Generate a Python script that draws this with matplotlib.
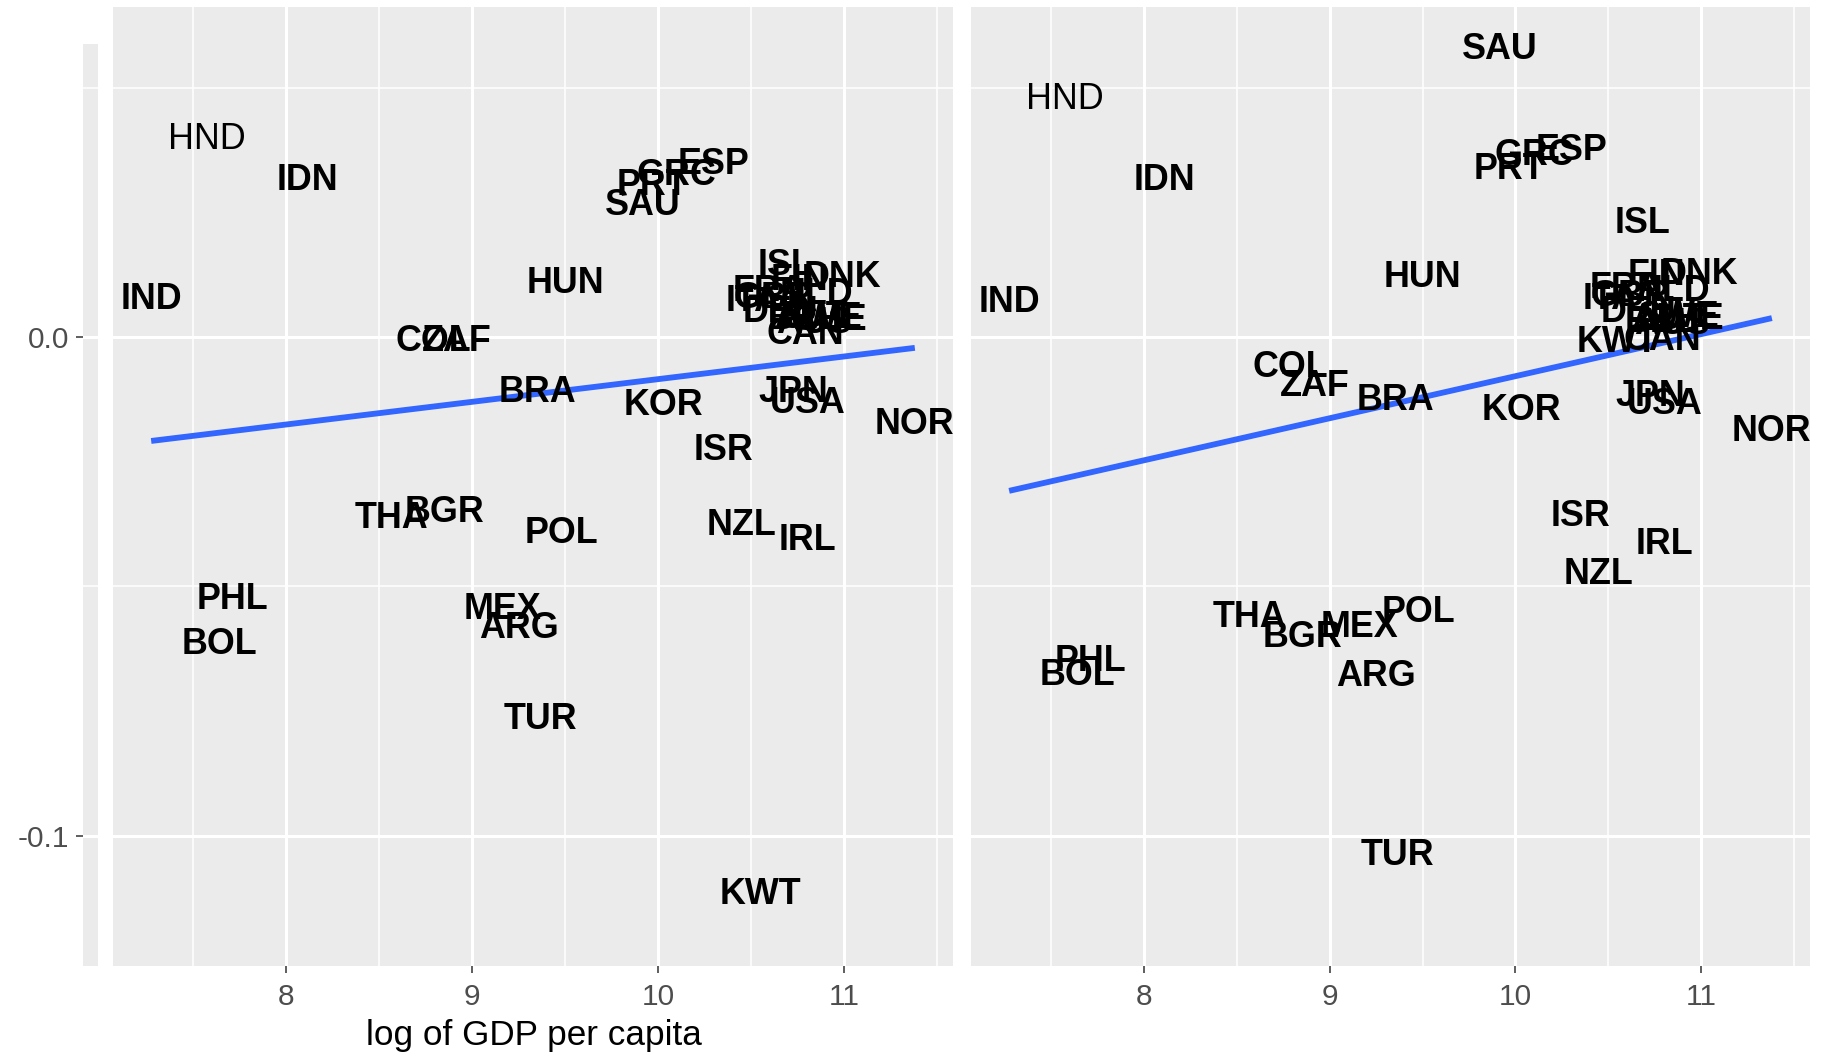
import numpy as np
import matplotlib
matplotlib.use("Agg")
import matplotlib.pyplot as plt
from matplotlib.transforms import offset_copy

plt.rcParams['font.family'] = ['Liberation Sans', 'DejaVu Sans']
plt.rcParams['axes.unicode_minus'] = False

# ---------------- data ----------------
countries = ["HND", "IDN", "IND", "ESP", "GRC", "PRT", "SAU", "HUN", "ISL", "FIN",
             "DNK", "FRA", "ITA", "NLD", "GBR", "DEU", "AUT", "BEL", "CHE", "AUS",
             "SWE", "CAN", "KWT", "COL", "ZAF", "BRA", "KOR", "JPN", "USA", "NOR",
             "ISR", "THA", "BGR", "POL", "NZL", "IRL", "PHL", "BOL", "MEX", "ARG",
             "TUR"]

log_gdp = [7.575, 8.113, 7.275, 10.30, 10.10, 9.97, 9.916, 9.50, 10.685, 10.76,
           10.99, 10.60, 10.51, 10.85, 10.62, 10.66, 10.82, 10.78, 10.92, 10.84,
           10.88, 10.79, 10.55, 8.79, 8.92, 9.352, 10.03, 10.726, 10.804, 11.38,
           10.352, 8.568, 8.853, 9.48, 10.446, 10.803, 7.712, 7.64, 9.163, 9.251,
           9.367]

y_left = [0.0404, 0.0322, 0.0082, 0.0353, 0.0332, 0.0311, 0.0271, 0.0114, 0.0150, 0.0121,
          0.0126, 0.0098, 0.0079, 0.0093, 0.0084, 0.0056, 0.0047, 0.0042, 0.0040, 0.0035,
          0.0044, 0.0012, -0.1112, -0.0002, -0.0002, -0.0105, -0.0131, -0.0105, -0.0126, -0.0168,
          -0.0220, -0.0357, -0.0346, -0.0388, -0.0371, -0.0402, -0.0521, -0.0610, -0.0540, -0.0579,
          -0.0762]

y_right = [0.0484, 0.0322, 0.0077, 0.0381, 0.0371, 0.0343, 0.0584, 0.0126, 0.0234, 0.0131,
           0.0133, 0.0105, 0.0082, 0.0098, 0.0089, 0.0056, 0.0042, 0.0037, 0.0042, 0.0033,
           0.0047, 0.0000, -0.0005, -0.0054, -0.0093, -0.0121, -0.0140, -0.0112, -0.0129, -0.0182,
           -0.0353, -0.0556, -0.0596, -0.0547, -0.0470, -0.0409, -0.0645, -0.0673, -0.0577, -0.0675,
           -0.1035]

regular_labels = ["HND"]

x_ticks = [8, 9, 10, 11]
x_tick_labels = ["8", "9", "10", "11"]
y_ticks = [0.0, -0.1]
y_tick_labels = ["0.0", "-0.1"]
x_title = "log of GDP per capita"

# ---------------- layout ----------------
W, H = 1825, 1052
fig = plt.figure(figsize=(W / 100, H / 100), dpi=100)

def fx(px):
    return px / W

def fy(py):
    return 1 - py / H

panel_top, panel_bot = 7, 966
ax1 = fig.add_axes([fx(113), fy(panel_bot), fx(953 - 113), (panel_bot - panel_top) / H])
ax2 = fig.add_axes([fx(971), fy(panel_bot), fx(1810 - 971), (panel_bot - panel_top) / H])

ylim = (-0.1262, 0.06635)
bg = '#EBEBEB'
tick_col = '#4D4D4D'
xvals = np.array(log_gdp)
xr = xvals.max() - xvals.min()
xlim = (xvals.min() - 0.05 * xr, xvals.max() + 0.05 * xr)

for ax, yv in ((ax1, y_left), (ax2, y_right)):
    ax.set_facecolor(bg)
    for s in ax.spines.values():
        s.set_visible(False)
    ax.set_xlim(*xlim)
    ax.set_ylim(*ylim)
    ax.set_xticks(x_ticks)
    ax.set_xticklabels(x_tick_labels)
    ax.set_xticks([7.5, 8.5, 9.5, 10.5, 11.5], minor=True)
    ax.set_yticks(y_ticks)
    ax.set_yticks([0.05, -0.05], minor=True)
    ax.grid(which='major', color='white', linewidth=2.2)
    ax.grid(which='minor', color='white', linewidth=1.1)
    ax.set_axisbelow(True)
    ax.tick_params(axis='x', which='major', length=5, width=1.1, color='#333333',
                   labelsize=21.5, labelcolor=tick_col, pad=7.5)
    ax.tick_params(axis='x', which='minor', length=0)
    ax.tick_params(axis='y', which='both', left=False, labelleft=False, length=0)
    yy = np.array(yv)
    # regression line (lm) over the data range
    coef = np.polyfit(xvals, yy, 1)
    xs = np.array([xvals.min(), xvals.max()])
    ax.plot(xs, np.polyval(coef, xs), color='#3366FF', linewidth=4.2,
            solid_capstyle='butt', zorder=2)
    trans = offset_copy(ax.transData, fig=fig, x=0, y=-3, units='dots')
    for name, xv, yvv in zip(countries, log_gdp, yv):
        ax.text(xv, yvv, name, ha='center', va='center', fontsize=25.8,
                fontweight='normal' if name in regular_labels else 'bold',
                color='black', zorder=3, transform=trans)

# thin strip holding the y axis (as in the reference)
strip_top = 44
strip = fig.add_axes([fx(83), fy(panel_bot), fx(15), (panel_bot - strip_top) / H])
strip.set_facecolor(bg)
for s in strip.spines.values():
    s.set_visible(False)
frac = (panel_bot - strip_top) / (panel_bot - panel_top)
strip.set_ylim(ylim[0], ylim[0] + (ylim[1] - ylim[0]) * frac)
strip.set_xlim(0, 1)
strip.set_xticks([])
strip.set_yticks(y_ticks)
strip.set_yticklabels(y_tick_labels)
strip.set_yticks([0.05, -0.05], minor=True)
strip.grid(axis='y', which='major', color='white', linewidth=2.2)
strip.grid(axis='y', which='minor', color='white', linewidth=1.1)
strip.tick_params(axis='y', which='major', length=5, width=1.1, color='#333333',
                  labelsize=21.5, labelcolor=tick_col, pad=5)
strip.tick_params(axis='y', which='minor', length=0)

fig.text(fx(534), fy(1035), x_title, ha='center', va='center', fontsize=25.3, color='black')

fig.savefig("out.png", dpi=100, facecolor='white')
